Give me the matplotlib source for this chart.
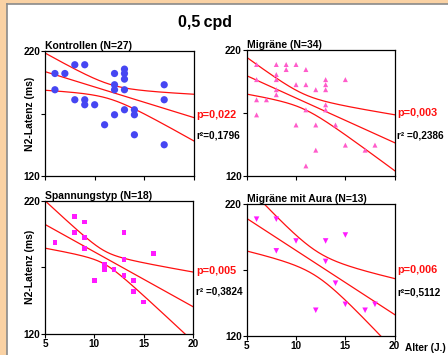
import numpy as np
import matplotlib
matplotlib.use("Agg")
import matplotlib.pyplot as plt
from matplotlib.patches import Rectangle

plt.rcParams['font.family'] = ['Liberation Sans', 'DejaVu Sans']
plt.rcParams['font.weight'] = 'bold'

# ---------------- data ----------------
titles = ["Kontrollen (N=27)", "Migräne (N=34)", "Spannungstyp (N=18)", "Migräne mit Aura (N=13)"]
p_texts = ["p=0,022", "p=0,003", "p=0,005", "p=0,006"]
r_texts = ["r²=0,1796", "r² =0,2386", "r² =0,3824", "r²=0,5112"]

age_k = [6, 6, 7, 8, 9, 8, 9, 9, 10, 11, 12, 12, 12, 12, 13, 13, 13, 13, 13, 14, 14, 14, 17, 17, 17]
lat_k = [202, 189, 202, 209, 209, 181, 181, 177, 177, 161, 202, 193, 189, 169, 205.5, 202, 197.5, 189, 173, 173, 169, 153, 193, 181, 145]

age_m = [6, 6, 6, 6, 7, 8, 8, 8, 8, 8, 9, 9, 10, 10, 10, 11, 11, 11, 11, 12, 12, 12, 13, 13, 13, 13, 13, 14, 15, 15, 17, 18]
lat_m = [208.5, 196.5, 180.5, 168.5, 180.5, 208.5, 200.5, 196.5, 188.5, 184.5, 208.5, 204.5, 208.5, 192.5, 160.5,
         204.5, 192.5, 172.5, 128, 188.5, 160.5, 140.5, 196.5, 192.5, 188.5, 176.5, 172.5, 160.5, 196.5, 144.5, 140.5, 144.5]

age_s = [6, 8, 8, 9, 9, 9, 10, 11, 11, 12, 13, 13, 13, 14, 14, 15, 16]
lat_s = [188.5, 208, 196, 204, 192.5, 184, 160, 172, 168.5, 168.5, 196, 176, 164, 160, 152, 144, 180.5]

age_a = [6, 8, 8, 10, 12, 13, 13, 14, 15, 15, 17, 18]
lat_a = [208.5, 208.5, 184.5, 192, 139.5, 192, 176.5, 160, 196.5, 144, 139.5, 144]

# regression line: value at age 5 and at age 20
fit_at5 = [203.5, 199.6, 202.2, 209.1]
fit_at20 = [166.7, 146.4, 140.5, 136.2]
# half width of the confidence band at ages 5, 12.5 and 20
band_ages = [5, 12.5, 20]
band_k = [14.9, 6.2, 18.7]
band_m = [14.6, 7.2, 22.2]
band_s = [17.8, 6.5, 26.0]
band_a = [24.7, 9.6, 27.3]
bands = [band_k, band_m, band_s, band_a]

ages = [age_k, age_m, age_s, age_a]
lats = [lat_k, lat_m, lat_s, lat_a]

markers = ['o', '^', 's', 'v']
msizes = [5.2, 3.6, 3.4, 4.0]
mcolors = ['#4646F2', '#FF5CCB', '#FF1AFF', '#FF1AFF']

# ---------------- figure ----------------
W, H = 448, 355
fig = plt.figure(figsize=(W / 100, H / 100), dpi=100)
fig.patch.set_facecolor('#FAD2A4')
bg = Rectangle((7 / W, 0), 1 - 7 / W, 1 - 4 / H, transform=fig.transFigure,
               facecolor='white', edgecolor='none', zorder=-10)
fig.patches.append(bg)
fig.add_artist(plt.Line2D([6.5 / W, 6.5 / W], [0, 1 - 3.5 / H], transform=fig.transFigure,
                          color='#8A8A8A', lw=1.2, zorder=-9))
fig.add_artist(plt.Line2D([6.5 / W, 1], [1 - 3.5 / H, 1 - 3.5 / H], transform=fig.transFigure,
                          color='#8A8A8A', lw=1.2, zorder=-9))


def fx(x):
    return x / W


def fy(y):
    return 1 - y / H


boxes = [(45, 51, 194, 176), (246.7, 50, 394.7, 176), (45, 200.7, 193, 334), (246.7, 204, 394.7, 336)]

for i, (x0, y0, x1, y1) in enumerate(boxes):
    ax = fig.add_axes([fx(x0), fy(y1), (x1 - x0) / W, (y1 - y0) / H])
    ax.set_zorder(5)
    ax.patch.set_alpha(0)
    ax.set_xlim(5, 20)
    ax.set_ylim(120, 220)
    ax.scatter(ages[i], lats[i], marker=markers[i], s=msizes[i] ** 2, color=mcolors[i],
               edgecolors='none', zorder=3, clip_on=True)
    xs = np.linspace(5, 20, 300)
    slope = (fit_at20[i] - fit_at5[i]) / 15.0
    yhat = fit_at5[i] + slope * (xs - 5)
    # hyperbolic band: squared half width is quadratic in age
    coef = np.polyfit(band_ages, np.square(bands[i]), 2)
    hw = np.sqrt(np.clip(np.polyval(coef, xs), 0, None))
    for yy in (yhat, yhat + hw, yhat - hw):
        ax.plot(xs, yy, color='#FF1010', lw=0.9, zorder=2)
    ax.set_yticks([120, 170, 220])
    ax.set_yticklabels(['120', '', '220'])
    ax.set_xticks([5, 10, 15, 20])
    if i >= 2:
        ax.set_xticklabels(['5', '10', '15', '20'])
    else:
        ax.set_xticklabels([])
    ax.tick_params(direction='out', length=3, width=0.8, pad=0.5, labelsize=7.2, colors='black')
    for lab in ax.get_xticklabels() + ax.get_yticklabels():
        lab.set_fontweight('bold')
    for sp in ax.spines.values():
        sp.set_linewidth(0.9)
        sp.set_color('black')
    fig.text(fx(x0), fy(y0 - 5), titles[i], fontsize=7.5, fontweight='bold', ha='left', va='center')

# annotations (pixel positions)
ann_x = [196, 397, 196, 397]
p_y = [115, 113, 270.7, 270]
r_y = [136, 136, 291.7, 292.7]
for i in range(4):
    fig.text(fx(ann_x[i]), fy(p_y[i]), p_texts[i], color='#FF1010', fontsize=7.8, fontweight='bold',
             ha='left', va='center')
    fig.text(fx(ann_x[i]), fy(r_y[i]), r_texts[i], color='black', fontsize=7.2, fontweight='bold',
             ha='left', va='center')

fig.text(fx(30), fy(113.5), 'N2-Latenz (ms)', rotation=90, fontsize=7.5, fontweight='bold',
         ha='center', va='center')
fig.text(fx(30), fy(267), 'N2-Latenz (ms)', rotation=90, fontsize=7.5, fontweight='bold',
         ha='center', va='center')
fig.text(fx(205), fy(22.5), '0,5\u2009cpd', fontsize=11.5, fontweight='bold', ha='center', va='center')
fig.text(fx(405), fy(348), 'Alter (J.)', fontsize=7.2, fontweight='bold', ha='left', va='center')

fig.savefig('out.png', dpi=100, facecolor=fig.get_facecolor())
